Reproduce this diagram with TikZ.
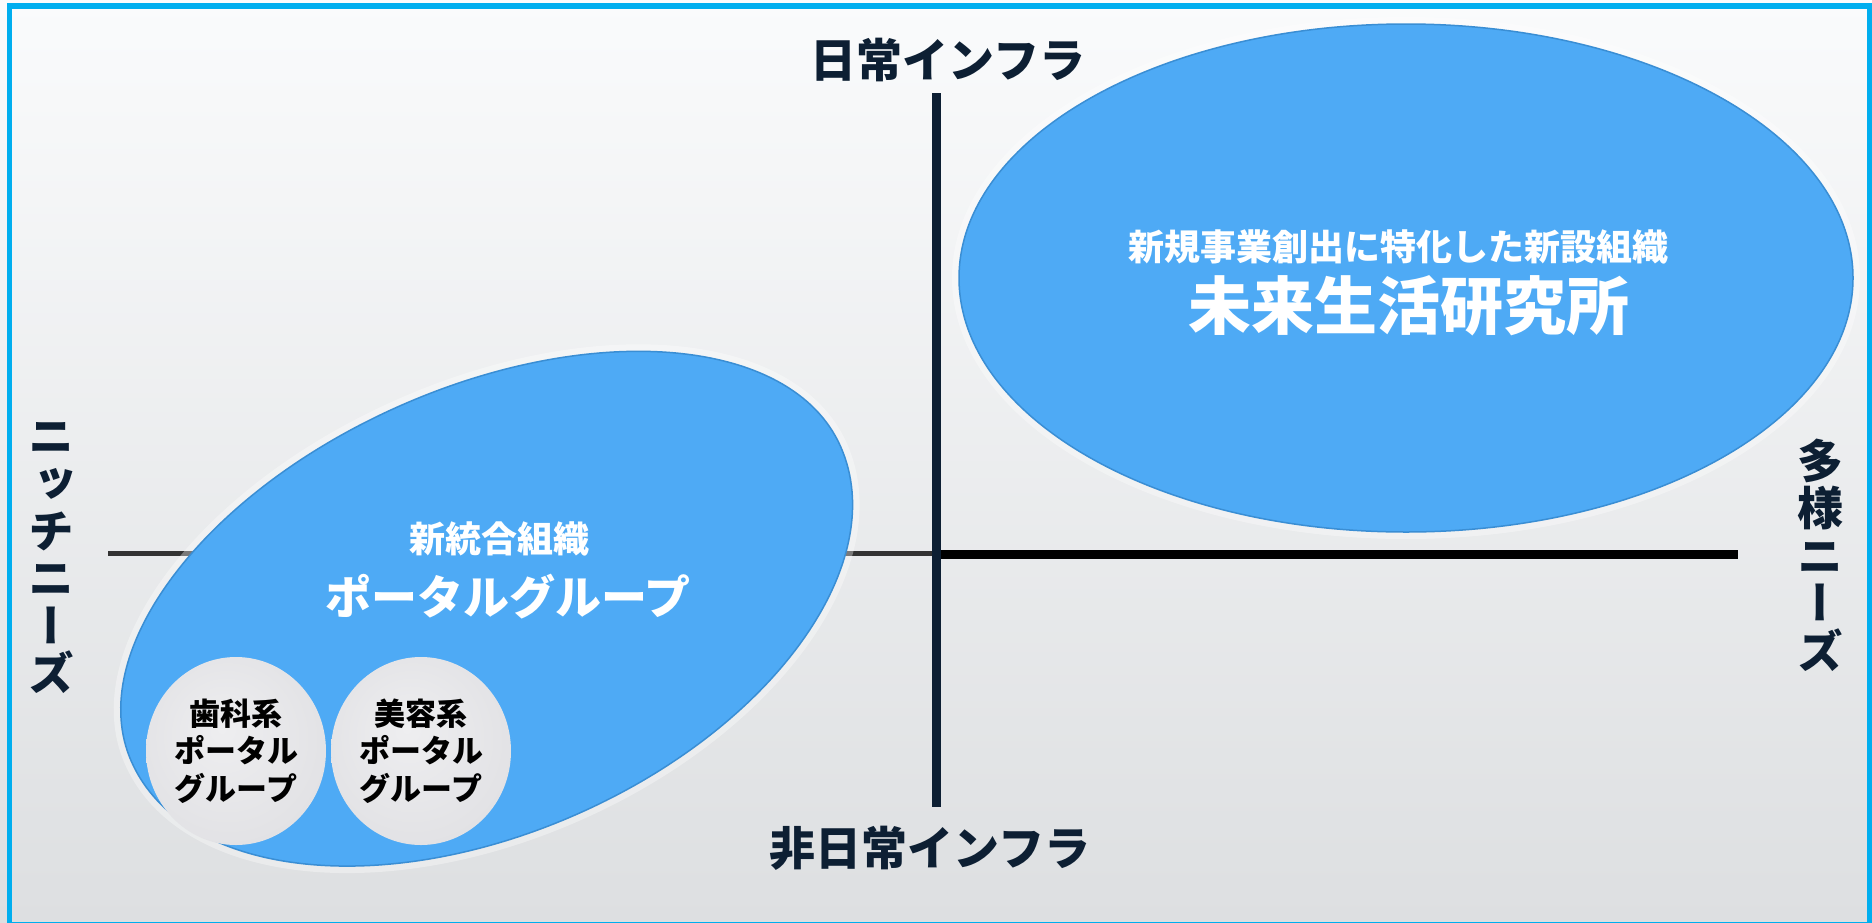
\documentclass[tikz,border=0pt]{standalone}
\usepackage{fontspec}
\usepackage{graphicx}
\newfontfamily\jp{Noto Sans CJK JP}
\newfontfamily\jpv[RawFeature=+vert]{Noto Sans CJK JP}
\usetikzlibrary{shapes.geometric}
\definecolor{navy}{HTML}{0D1F33}
\definecolor{framec}{HTML}{00AEEF}
\definecolor{blueF}{HTML}{4EAAF5}
\definecolor{blueE}{HTML}{3A8ED4}
\definecolor{bgtop}{HTML}{FAFBFC}
\definecolor{bgbot}{HTML}{DDDFE1}
\definecolor{ballA}{HTML}{EEEEF0}
\definecolor{ballB}{HTML}{E2E2E5}
\definecolor{ballC}{HTML}{CBCBCE}
\definecolor{ballD}{HTML}{B3B0AD}
\pgfdeclareradialshading{grayball}{\pgfpoint{-4bp}{6bp}}{color(0bp)=(ballA); color(28bp)=(ballB); color(42bp)=(ballC); color(50bp)=(ballD)}
\tikzset{
  axislabel/.style={inner sep=0pt, text=navy, font={\jp\bfseries\fontsize{46}{46}\selectfont}},
  vlabel/.style={inner sep=0pt, text=navy, align=center, font={\jpv\bfseries\fontsize{46}{47.5}\selectfont}},
  halo/.style={preaction={draw=white, line width=14pt, opacity=0.35}},
  blueshape/.style={fill=blueF, draw=blueE, line width=1.5pt, halo},
  blueell/.style={ellipse, inner sep=0pt, blueshape},
  ball/.style={ellipse, inner sep=0pt, shading=grayball, align=center, text=black,
    minimum width=180pt, minimum height=188pt,
    font={\jp\bfseries\fontsize{31}{37.5}\selectfont}},
  wsmall/.style={inner sep=0pt, text=white, font={\jp\bfseries\fontsize{36}{36}\selectfont}},
  wbig/.style={inner sep=0pt, text=white, font={\jp\bfseries\fontsize{46}{46}\selectfont}},
  whuge/.style={inner sep=0pt, text=white, font={\jp\bfseries\fontsize{63}{63}\selectfont}},
}
\begin{document}
\begin{tikzpicture}[x=1pt,y=-1pt]
\useasboundingbox (0,0) rectangle (1872,922);
% background
\shade[top color=bgtop, bottom color=bgbot] (0,0) rectangle (1872,922);
% axes end points
\coordinate (hL) at (108,553.5);
\coordinate (hM) at (932,553.5);
\coordinate (hR0) at (941,554.5);
\coordinate (hR) at (1738,554.5);
\coordinate (vT) at (936.5,93);
\coordinate (vB) at (936.5,807);
% thin left axis (behind the left shape)
\draw[black!80, line width=5pt] (hL) -- (hM);
% left (tilted) ellipse, slightly fuller on its lower-right side
\begin{scope}[shift={(486,604)}, rotate=24]
  \draw[blueshape] (388,0)
    arc[start angle=0, end angle=180, x radius=388, y radius=229]
    arc[start angle=180, end angle=360, x radius=388, y radius=216] -- cycle;
\end{scope}
% right ellipse
\node[blueell, minimum width=894pt, minimum height=508pt] (lab) at (1406,278) {};
% axes
\draw[navy, line width=9pt] (vT) -- (vB);
\draw[black, line width=9pt] (hR0) -- (hR);
% axis labels
\node[axislabel] (top) at (948,60) {日常インフラ};
\node[axislabel] (bottom) at (930,848) {非日常インフラ};
\node[vlabel] (niche) at (51,558) {ニ\\ッ\\チ\\ニ\\ー\\ズ};
\node[vlabel] (multi) at (1820,555) {多\\様\\ニ\\ー\\ズ};
% texts in ellipses
\node[wsmall] (t1) at (499,539) {新統合組織};
\node[wbig] (t2) at (508,597) {ポータルグループ};
\node[wsmall] (t3) at (1398,247) {新規事業創出に特化した新設組織};
\node[whuge] (t4) at (1409,306) {未来生活研究所};
% gray balls
\node[ball] (dental) at (236,751) {歯科系\\ポータル\\グループ};
\node[ball] (beauty) at (421,751) {美容系\\ポータル\\グループ};
% frame
\draw[framec, line width=5.5pt] (9.5,6) rectangle (1870,924.5);
\end{tikzpicture}
\end{document}
